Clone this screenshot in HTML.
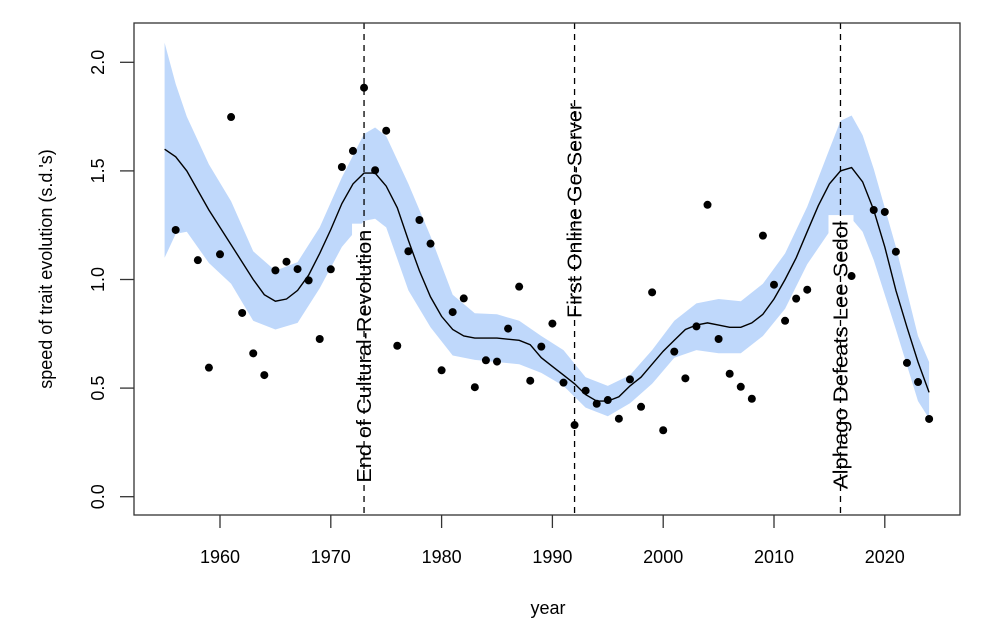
<!DOCTYPE html>
<html><head><meta charset="utf-8"><style>
html,body{margin:0;padding:0;background:#fff;}
svg text{font-family:"Liberation Sans",Arial,sans-serif;fill:#000;}
</style></head><body>
<svg id="chart" width="1000" height="633" viewBox="0 0 1000 633" xmlns="http://www.w3.org/2000/svg">
<g id="band"></g>
<g id="labelbg"></g>
<g id="vlines"></g>
<g id="fit"></g>
<g id="pts"></g>
<g id="axes"></g>
</svg>
<script>
const pointYears=[1956,1958,1959,1960,1961,1962,1963,1964,1965,1966,1967,1968,1969,1970,1971,1972,1973,1974,1975,1976,1977,1978,1979,1980,1981,1982,1983,1984,1985,1986,1987,1988,1989,1990,1991,1992,1993,1994,1995,1996,1997,1998,1999,2000,2001,2002,2003,2004,2005,2006,2007,2008,2009,2010,2011,2012,2013,2017,2019,2020,2021,2022,2023,2024];
const pointValues=[1.228,1.089,0.594,1.116,1.748,0.846,0.660,0.560,1.042,1.082,1.048,0.996,0.726,1.047,1.518,1.592,1.883,1.503,1.685,0.695,1.130,1.274,1.165,0.582,0.850,0.913,0.504,0.628,0.622,0.774,0.967,0.534,0.691,0.797,0.525,0.330,0.488,0.428,0.445,0.359,0.540,0.414,0.941,0.306,0.668,0.545,0.784,1.344,0.726,0.566,0.506,0.451,1.202,0.976,0.810,0.912,0.953,1.016,1.320,1.311,1.128,0.616,0.528,0.358];
const fitYears=[1955,1956,1957,1959,1961,1963,1964,1965,1966,1967,1968,1969,1970,1971,1972,1973,1974,1975,1976,1977,1978,1979,1980,1981,1982,1983,1985,1987,1988,1989,1990,1991,1992,1993,1994,1995,1996,1997,1998,1999,2000,2001,2002,2003,2004,2005,2006,2007,2008,2009,2010,2011,2012,2013,2014,2015,2016,2017,2018,2019,2020,2021,2022,2023,2024];
const fitValues=[1.60,1.565,1.50,1.32,1.16,1.00,0.93,0.90,0.91,0.95,1.02,1.12,1.23,1.35,1.44,1.49,1.49,1.43,1.33,1.18,1.04,0.92,0.83,0.77,0.74,0.73,0.73,0.72,0.70,0.64,0.60,0.56,0.52,0.47,0.44,0.44,0.46,0.51,0.55,0.61,0.67,0.72,0.77,0.79,0.80,0.79,0.78,0.78,0.80,0.84,0.91,1.00,1.10,1.22,1.34,1.44,1.50,1.515,1.45,1.32,1.15,0.95,0.78,0.62,0.48];
const bandYears=[1955,1956,1957,1959,1961,1963,1965,1967,1969,1971,1973,1974,1975,1977,1979,1981,1983,1985,1987,1989,1991,1993,1995,1997,1999,2001,2003,2005,2007,2009,2011,2013,2015,2016,2017,2018,2019,2021,2023,2024];
const bandUpper=[2.09,1.90,1.75,1.53,1.36,1.13,1.04,1.08,1.24,1.47,1.67,1.70,1.66,1.44,1.20,0.93,0.845,0.84,0.81,0.74,0.675,0.55,0.51,0.56,0.675,0.81,0.89,0.91,0.90,0.98,1.12,1.335,1.60,1.73,1.755,1.665,1.51,1.15,0.74,0.62];
const bandLower=[1.10,1.21,1.22,1.076,0.98,0.81,0.77,0.80,0.96,1.15,1.27,1.28,1.24,0.95,0.78,0.65,0.63,0.62,0.61,0.57,0.51,0.41,0.37,0.43,0.52,0.64,0.675,0.66,0.66,0.74,0.865,1.07,1.22,1.286,1.28,1.22,1.09,0.77,0.44,0.36];
const eventYears=[1973,1992,2016];
const eventLabels=["End of Cultural-Revolution","First Online Go-Server","Alphago Defeats Lee Sedol"];
const eventLabelValues=[0.647,1.318,0.652];
const eventLabelLengths=[253,215,268];
const xTicks=[1960,1970,1980,1990,2000,2010,2020];
const yTicks=[0,0.5,1,1.5,2];
const yTickLabels=["0.0","0.5","1.0","1.5","2.0"];

const X0=134,X1=960,Y0=23,Y1=515;
const xs=y=>220+(y-1960)*11.08;
const ys=v=>496.7-v*217.2;
const NS="http://www.w3.org/2000/svg";
function mk(tag,attrs,parent){const e=document.createElementNS(NS,tag);for(const k in attrs)e.setAttribute(k,attrs[k]);parent.appendChild(e);return e;}

const band=document.getElementById('band');
let d=bandYears.map((y,i)=>(i?'L':'M')+xs(y).toFixed(1)+','+ys(bandUpper[i]).toFixed(1)).join('');
for(let i=bandYears.length-1;i>=0;i--)d+='L'+xs(bandYears[i]).toFixed(1)+','+ys(bandLower[i]).toFixed(1);
const bp=mk('path',{d:d+'Z',fill:'#bfd8fb',stroke:'none'},band);



const bg=document.getElementById('labelbg');
const vl=document.getElementById('vlines');
eventYears.forEach((yr,i)=>{
  const x=xs(yr);
  const cy=ys(eventLabelValues[i]);
  const L=eventLabelLengths[i];
  const r=mk('rect',{x:x-12,y:cy-L/2-6,width:25,height:L+12,fill:'#fff'},bg);
  
  
  const l=mk('line',{x1:x,x2:x,y1:Y0,y2:Y1,stroke:'#000','stroke-width':1.3,'stroke-dasharray':'6,5'},vl);
  
  
  const t=mk('text',{x:x,y:cy+7,'font-size':20.5,'text-anchor':'middle',textLength:L,lengthAdjust:'spacingAndGlyphs',transform:`rotate(-90 ${x} ${cy})`},vl);
  t.textContent=eventLabels[i];
  
  
});

const fit=document.getElementById('fit');
const fp=mk('polyline',{points:fitYears.map((y,i)=>xs(y).toFixed(1)+','+ys(fitValues[i]).toFixed(1)).join(' '),fill:'none',stroke:'#000','stroke-width':1.4},fit);



const pts=document.getElementById('pts');
pointYears.forEach((y,i)=>{
  const c=mk('circle',{cx:xs(y),cy:ys(pointValues[i]),r:4,fill:'#000'},pts);
  
  
});

const ax=document.getElementById('axes');
const box=mk('rect',{x:X0,y:Y0,width:X1-X0,height:Y1-Y0,fill:'none',stroke:'#333','stroke-width':1.3},ax);


xTicks.forEach(t=>{
  const x=xs(t);
  const tk=mk('line',{x1:x,x2:x,y1:Y1,y2:528,stroke:'#333','stroke-width':1.3},ax);
  
  
  const tx=mk('text',{x:x,y:563,'font-size':18,'text-anchor':'middle'},ax);
  tx.textContent=t;
  
  
});
yTicks.forEach((v,i)=>{
  const y=ys(v);
  const tk=mk('line',{x1:120,x2:X0,y1:y,y2:y,stroke:'#333','stroke-width':1.3},ax);
  
  
  const tx=mk('text',{x:104,y:y,'font-size':18,'text-anchor':'middle',transform:`rotate(-90 104 ${y})`},ax);
  tx.textContent=yTickLabels[i];
  
  
});
const xt=mk('text',{x:548,y:614,'font-size':18,'text-anchor':'middle'},ax);
xt.textContent='year';


const yt=mk('text',{x:52,y:269,'font-size':18,'text-anchor':'middle',transform:'rotate(-90 52 269)'},ax);
yt.textContent="speed of trait evolution (s.d.'s)";


</script>
</body></html>
